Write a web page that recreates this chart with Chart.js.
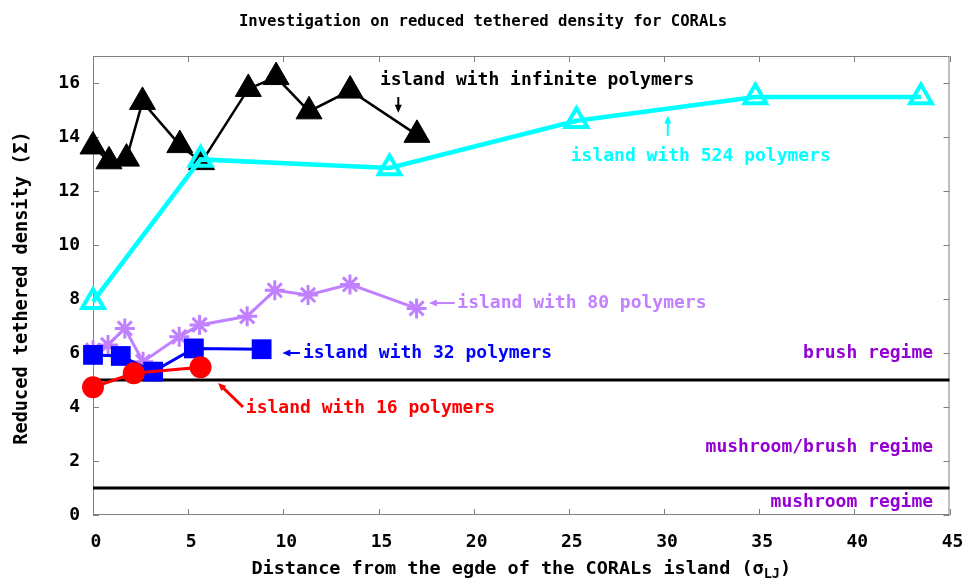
<!DOCTYPE html>
<html>
<head>
<meta charset="utf-8">
<script src="https://cdn.jsdelivr.net/npm/chart.js@4"></script>
<style>
  html, body { margin: 0; padding: 0; background: #fff; }
  #wrap { width: 966px; height: 580px; }
</style>
</head>
<body>
<div id="wrap"><canvas id="c" width="966" height="580"></canvas></div>
<script>
// Distance from the island edge (sigma_LJ) and reduced tethered density (Sigma)
const xInfinite = [0, 0.84, 1.76, 2.6, 4.56, 5.7, 8.16, 9.62, 11.35, 13.51, 17.02];
const yInfinite = [13.65, 13.1, 13.2, 15.3, 13.7, 13.07, 15.78, 16.22, 14.95, 15.72, 14.08];

const x524 = [0, 5.65, 15.58, 25.4, 34.8, 43.5];
const y524 = [7.9, 13.17, 12.85, 14.6, 15.48, 15.48];

const x80 = [0, 0.79, 1.67, 2.63, 4.53, 5.6, 8.1, 9.55, 11.3, 13.5, 17.0];
const y80 = [6.1, 6.3, 6.91, 5.68, 6.6, 7.04, 7.36, 8.32, 8.15, 8.54, 7.65];

const x32 = [0, 1.46, 3.16, 5.3, 8.86];
const y32 = [5.93, 5.89, 5.31, 6.17, 6.14];

const x16 = [0, 2.14, 5.65];
const y16 = [4.73, 5.25, 5.47];

// Regime boundaries
const regimeSpan = [0, 45];
const brushLimit = 5;
const mushroomLimit = 1;

const xTicks = [0, 5, 10, 15, 20, 25, 30, 35, 40, 45];
const yTicks = [0, 2, 4, 6, 8, 10, 12, 14, 16];

const FONT = '"DejaVu Sans Mono", monospace';
const PURPLE = '#c080ff';
const REGIME = '#9400d3';

const pts = (xs, ys) => xs.map((v, i) => ({ x: v, y: ys[i] }));
const flat = (xs, v) => xs.map(x => ({ x: x, y: v }));

const notes = [
  { text: 'island with infinite polymers', x: 15.08, y: 16.1, color: '#000000', align: 'left' },
  { text: 'island with 524 polymers', x: 25.1, y: 13.3, color: '#00ffff', align: 'left' },
  { text: 'island with 80 polymers', x: 19.14, y: 7.85, color: PURPLE, align: 'left' },
  { text: 'island with 32 polymers', x: 11.03, y: 6.0, color: '#0000ff', align: 'left' },
  { text: 'island with 16 polymers', x: 8.03, y: 3.96, color: '#ff0000', align: 'left' },
  { text: 'brush regime', x: 44.14, y: 6.0, color: REGIME, align: 'right' },
  { text: 'mushroom/brush regime', x: 44.14, y: 2.52, color: REGIME, align: 'right' },
  { text: 'mushroom regime', x: 44.14, y: 0.48, color: REGIME, align: 'right' }
];

const arrows = [
  { from: [16.04, 15.48], to: [16.04, 14.9], color: '#000000', w: 2 },
  { from: [30.2, 14.04], to: [30.2, 14.8], color: '#00ffff', w: 2 },
  { from: [19.0, 7.85], to: [17.65, 7.85], color: PURPLE, w: 2 },
  { from: [10.87, 6.0], to: [9.95, 6.0], color: '#0000ff', w: 2 },
  { from: [7.88, 4.0], to: [6.57, 4.89], color: '#ff0000', w: 3 }
];

const decor = {
  id: 'decor',
  beforeDatasetsDraw(chart) {
    const { ctx, chartArea: a, scales: { x, y } } = chart;
    ctx.save();
    ctx.strokeStyle = '#808080';
    ctx.lineWidth = 1;
    ctx.strokeRect(a.left + 0.5, a.top + 0.5, a.right - a.left - 1, a.bottom - a.top - 1);
    ctx.beginPath();
    const tl = 6;
    xTicks.forEach(v => {
      const px = Math.round(x.getPixelForValue(v)) + 0.5;
      ctx.moveTo(px, a.bottom); ctx.lineTo(px, a.bottom - tl);
      ctx.moveTo(px, a.top); ctx.lineTo(px, a.top + tl);
    });
    yTicks.forEach(v => {
      const py = Math.round(y.getPixelForValue(v)) + 0.5;
      ctx.moveTo(a.left, py); ctx.lineTo(a.left + tl, py);
      ctx.moveTo(a.right, py); ctx.lineTo(a.right - tl, py);
    });
    ctx.stroke();
    ctx.restore();
  },
  afterDatasetsDraw(chart) {
    const { ctx, scales: { x, y } } = chart;
    ctx.save();
    // annotation labels
    ctx.font = 'bold 18px ' + FONT;
    ctx.textBaseline = 'middle';
    notes.forEach(n => {
      ctx.fillStyle = n.color;
      ctx.textAlign = n.align;
      ctx.fillText(n.text, x.getPixelForValue(n.x), y.getPixelForValue(n.y));
    });
    // annotation arrows
    arrows.forEach(ar => {
      const x0 = x.getPixelForValue(ar.from[0]), y0 = y.getPixelForValue(ar.from[1]);
      const x1 = x.getPixelForValue(ar.to[0]), y1 = y.getPixelForValue(ar.to[1]);
      const ang = Math.atan2(y1 - y0, x1 - x0);
      const hl = 8, hw = 3.5;
      ctx.strokeStyle = ar.color;
      ctx.fillStyle = ar.color;
      ctx.lineWidth = ar.w;
      ctx.beginPath();
      ctx.moveTo(x0, y0);
      ctx.lineTo(x1 - Math.cos(ang) * hl * 0.8, y1 - Math.sin(ang) * hl * 0.8);
      ctx.stroke();
      ctx.beginPath();
      ctx.moveTo(x1, y1);
      ctx.lineTo(x1 - Math.cos(ang) * hl - Math.sin(ang) * hw, y1 - Math.sin(ang) * hl + Math.cos(ang) * hw);
      ctx.lineTo(x1 - Math.cos(ang) * hl + Math.sin(ang) * hw, y1 - Math.sin(ang) * hl - Math.cos(ang) * hw);
      ctx.closePath();
      ctx.fill();
    });
    ctx.restore();
  },
  afterDraw(chart) {
    const { ctx, chartArea: a } = chart;
    ctx.save();
    ctx.fillStyle = '#000';
    ctx.textBaseline = 'middle';
    // title
    ctx.font = 'bold 15.6px ' + FONT;
    ctx.textAlign = 'center';
    ctx.fillText('Investigation on reduced tethered density for CORALs', 483, 22);
    // y axis title
    ctx.font = 'bold 18.6px ' + FONT;
    ctx.save();
    ctx.translate(22, 288);
    ctx.rotate(-Math.PI / 2);
    ctx.fillText('Reduced tethered density (\u03A3)', 0, 0);
    ctx.restore();
    // x axis title with subscript
    const main = 'Distance from the egde of the CORALs island (\u03C3';
    const sub = 'LJ';
    const close = ')';
    const big = 'bold 18.5px ' + FONT;
    const small = 'bold 13.5px ' + FONT;
    ctx.font = big;
    const wMain = ctx.measureText(main).width;
    const wClose = ctx.measureText(close).width;
    ctx.font = small;
    const wSub = ctx.measureText(sub).width;
    const cx = (a.left + a.right) / 2;
    let sx = cx - (wMain + wSub + wClose) / 2;
    const ty = 569;
    ctx.textAlign = 'left';
    ctx.font = big;
    ctx.fillText(main, sx, ty);
    sx += wMain;
    ctx.font = small;
    ctx.fillText(sub, sx, ty + 5);
    sx += wSub;
    ctx.font = big;
    ctx.fillText(close, sx, ty);
    ctx.restore();
  }
};

const lineSet = (data, color, lw, order, extra) => Object.assign({
  data: data,
  showLine: true,
  borderColor: color,
  borderWidth: lw,
  pointBorderColor: color,
  pointBackgroundColor: color,
  tension: 0,
  clip: false,
  order: order
}, extra);

new Chart(document.getElementById('c'), {
  type: 'scatter',
  data: {
    datasets: [
      lineSet(flat(regimeSpan, brushLimit), '#000000', 3, 10, { pointRadius: 0 }),
      lineSet(flat(regimeSpan, mushroomLimit), '#000000', 3, 10, { pointRadius: 0 }),
      lineSet(pts(xInfinite, yInfinite), '#000000', 2.5, 6,
        { pointStyle: 'triangle', pointRadius: 15, pointBorderWidth: 1 }),
      lineSet(pts(x524, y524), '#00ffff', 4.5, 5,
        { pointStyle: 'triangle', pointRadius: 12.5, pointBorderWidth: 4, pointBackgroundColor: 'rgba(0,0,0,0)' }),
      lineSet(pts(x80, y80), PURPLE, 3, 4,
        { pointStyle: 'star', pointRadius: 10, pointBorderWidth: 3 }),
      lineSet(pts(x32, y32), '#0000ff', 3, 3,
        { pointStyle: 'rect', pointRadius: 14, pointBorderWidth: 0 }),
      lineSet(pts(x16, y16), '#ff0000', 3, 2,
        { pointStyle: 'circle', pointRadius: 11, pointBorderWidth: 0 })
    ]
  },
  options: {
    responsive: false,
    animation: false,
    events: [],
    layout: { padding: { top: 56, right: 16, left: 0, bottom: 0 } },
    plugins: { legend: { display: false }, title: { display: false }, tooltip: { enabled: false } },
    scales: {
      x: {
        type: 'linear',
        min: 0, max: 45,
        grid: { display: false, drawTicks: false },
        border: { display: false },
        afterBuildTicks: s => { s.ticks = xTicks.map(v => ({ value: v })); },
        afterFit: s => { s.height = 65; s.paddingLeft = 0; s.paddingRight = 0; },
        ticks: {
          padding: 17,
          labelOffset: 3,
          maxRotation: 0,
          color: '#000',
          font: { family: FONT, size: 18, weight: 'bold' }
        }
      },
      y: {
        type: 'linear',
        min: 0, max: 17,
        grid: { display: false, drawTicks: false },
        border: { display: false },
        afterBuildTicks: s => { s.ticks = yTicks.map(v => ({ value: v })); },
        afterFit: s => { s.width = 93; s.paddingTop = 0; s.paddingBottom = 0; },
        ticks: {
          padding: 13,
          color: '#000',
          font: { family: FONT, size: 18, weight: 'bold' }
        }
      }
    }
  },
  plugins: [decor]
});
</script>
</body>
</html>
